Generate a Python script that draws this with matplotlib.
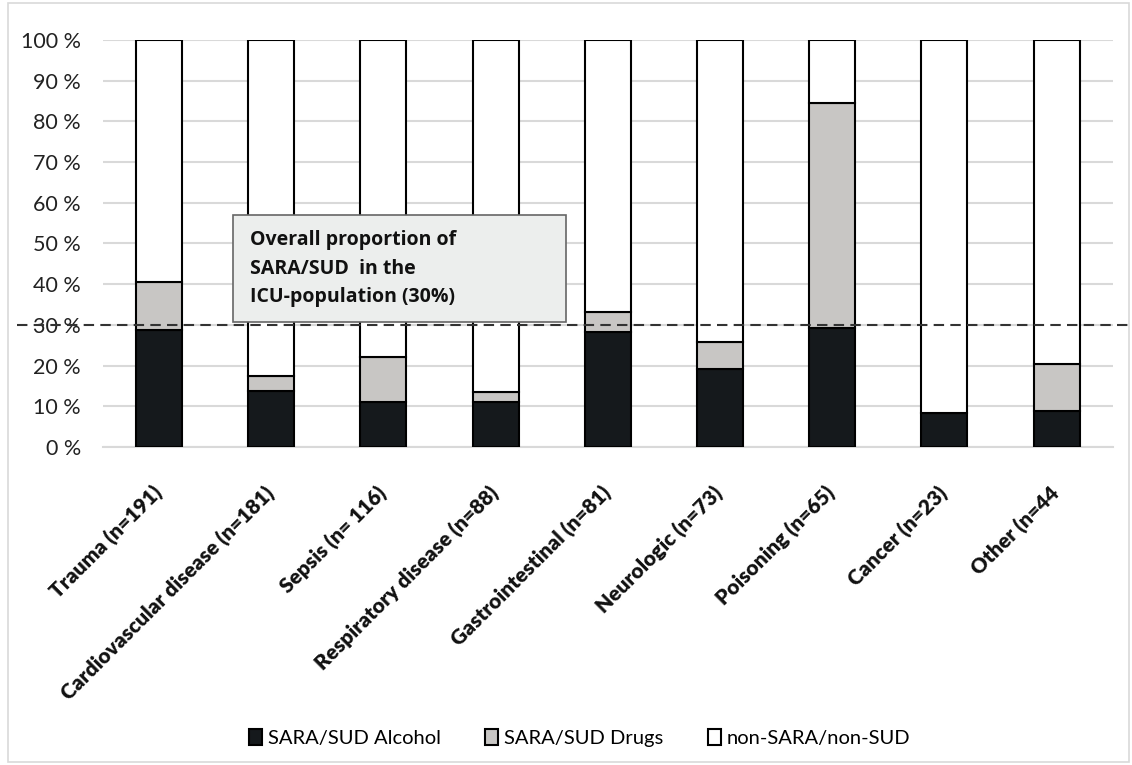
import numpy as np
import matplotlib.pyplot as plt
from matplotlib.patches import Rectangle

categories = ["Trauma (n=191)", "Cardiovascular disease (n=181)", "Sepsis (n= 116)",
              "Respiratory disease (n=88)", "Gastrointestinal (n=81)", "Neurologic (n=73)",
              "Poisoning (n=65)", "Cancer (n=23)", "Other (n=44"]
alcohol = [28.7, 13.8, 11.0, 11.1, 28.3, 19.1, 29.2, 8.4, 8.9]
drugs = [11.9, 3.7, 11.0, 2.3, 4.8, 6.6, 55.4, 0.0, 11.4]
overall = 30

plt.rcParams['font.family'] = ['Lato', 'DejaVu Sans']

non_sud = [100 - a - d for a, d in zip(alcohol, drugs)]
x = np.arange(len(categories))

fig = plt.figure(figsize=(11.32, 7.65), dpi=100)
ax = fig.add_axes([0.091, 0.4157, 0.892, 0.532])

w = 0.41
ax.bar(x, alcohol, w, color='#15191c', edgecolor='black', linewidth=1.5,
       label='SARA/SUD Alcohol', zorder=3)
ax.bar(x, drugs, w, bottom=alcohol, color='#c8c6c4', edgecolor='black',
       linewidth=1.5, label='SARA/SUD Drugs', zorder=3)
ax.bar(x, non_sud, w, bottom=np.add(alcohol, drugs), color='white',
       edgecolor='black', linewidth=1.5, label='non-SARA/non-SUD', zorder=3)

ax.set_xlim(-0.5, len(categories) - 0.5)
ax.set_ylim(0, 100)
ax.set_yticks(np.arange(0, 101, 10))
ax.set_yticklabels([f"{v} %" for v in range(0, 101, 10)], fontsize=15.5, color='#222222')
ax.set_xticks(x)
ax.set_xticklabels(categories, rotation=45, ha='right', va='center',
                   rotation_mode='anchor', fontsize=15, fontweight='heavy',
                   color='#111111')
ax.tick_params(length=0)
ax.tick_params(axis='x', pad=31)
ax.tick_params(axis='y', pad=16)
ax.yaxis.grid(True, color='#d9d9d9', linewidth=1.5, zorder=0)
for s in ['top', 'right', 'left']:
    ax.spines[s].set_visible(False)
ax.spines['bottom'].set_color('#d9d9d9')
ax.spines['bottom'].set_linewidth(1.5)

# overall proportion line, runs past the plot area
ax.axhline(overall, xmin=-0.085, xmax=1.02, color='#333333', linestyle=(0, (5, 3)),
           linewidth=1.5, clip_on=False, zorder=4)

ax.add_patch(Rectangle((0.1287, 0.3083), 0.3297, 0.2629, transform=ax.transAxes,
                       facecolor='#eceeed', edgecolor='#666666', linewidth=1.2,
                       clip_on=False, zorder=5))
ax.text(0.1455, 0.532,
        "Overall proportion of\nSARA/SUD  in the\nICU-population (30%)",
        transform=ax.transAxes, fontsize=14, fontweight='bold', color='#111111',
        family=['Open Sans', 'DejaVu Sans'], va='top', ha='left', linespacing=1.55,
        zorder=6)

ax.legend(loc='center', bbox_to_anchor=(0.512, 0.035), bbox_transform=fig.transFigure,
          ncol=3, frameon=False, fontsize=14.5, handlelength=0.65, handleheight=0.8,
          handletextpad=0.3, columnspacing=2.2)

fig.patches.append(Rectangle((0.007, 0.004), 0.99, 0.992, transform=fig.transFigure,
                             fill=False, edgecolor='#d9d9d9', linewidth=1.2))

fig.savefig("out.png", dpi=100)
